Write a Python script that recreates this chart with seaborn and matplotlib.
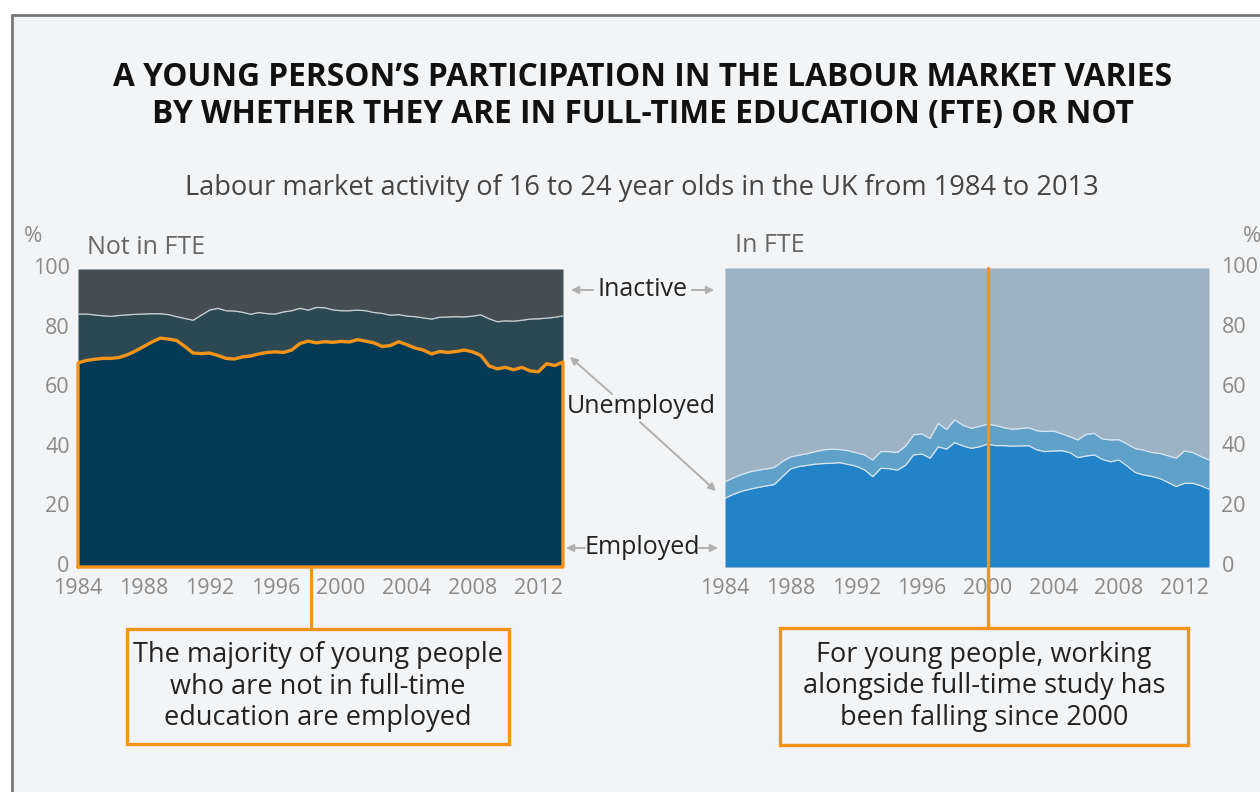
import numpy as np
import pandas as pd
import seaborn as sns
import matplotlib.pyplot as plt
import matplotlib.transforms as mtransforms
from matplotlib.patches import Rectangle, FancyArrowPatch

# data (half-year steps)
years = [1984.0 + 0.5 * i for i in range(60)]

# not in full-time education
not_fte_employed = [68.5, 69.3, 69.7, 70.0, 70.0, 70.3, 71.2, 72.5, 74.0, 75.5,
                    76.8, 76.5, 76.0, 74.0, 71.8, 71.6, 71.8, 71.0, 70.0, 69.8,
                    70.5, 70.8, 71.5, 72.0, 72.2, 72.0, 72.8, 75.0, 75.8, 75.2,
                    75.6, 75.4, 75.7, 75.5, 76.3, 75.8, 75.2, 74.0, 74.3, 75.6,
                    74.6, 73.5, 72.8, 71.5, 72.3, 72.0, 72.3, 72.8, 72.2, 71.0,
                    67.5, 66.5, 67.0, 66.2, 67.0, 65.8, 65.5, 68.2, 67.6, 68.8]
not_fte_active = [84.8, 84.9, 84.6, 84.3, 84.1, 84.4, 84.6, 84.8, 84.9, 85.0,
                  85.0, 84.7, 84.0, 83.4, 82.8, 84.5, 86.2, 86.8, 86.0, 85.9,
                  85.5, 84.8, 85.4, 85.0, 84.9, 85.6, 86.0, 86.8, 86.2, 87.1,
                  87.0, 86.3, 86.0, 86.0, 86.2, 86.0, 85.4, 85.1, 84.5, 84.7,
                  84.2, 84.0, 83.6, 83.2, 83.8, 83.9, 84.0, 83.9, 84.2, 84.6,
                  83.3, 82.3, 82.6, 82.5, 82.8, 83.2, 83.3, 83.5, 83.8, 84.3]

# in full-time education
fte_employed = [23.0, 24.3, 25.3, 26.0, 26.6, 27.1, 27.6, 30.2, 32.8, 33.6,
                34.0, 34.4, 34.6, 34.7, 34.9, 34.3, 33.7, 32.5, 30.2, 33.0,
                32.9, 32.4, 34.0, 37.5, 37.8, 36.4, 40.2, 39.4, 41.6, 40.5,
                39.7, 40.2, 41.1, 40.6, 40.6, 40.4, 40.5, 40.6, 39.2, 38.6,
                38.8, 38.9, 38.3, 36.6, 37.1, 37.5, 36.0, 35.2, 35.8, 33.8,
                31.6, 30.8, 30.3, 29.6, 28.3, 26.9, 28.0, 28.0, 27.2, 26.0]
fte_active = [28.5, 29.8, 30.9, 31.8, 32.4, 32.8, 33.3, 35.3, 36.8, 37.4,
              37.9, 38.6, 39.2, 39.4, 39.3, 38.9, 38.2, 37.5, 35.8, 38.6,
              38.6, 38.3, 40.4, 44.2, 44.5, 43.0, 48.0, 46.0, 49.2, 47.4,
              46.4, 47.0, 47.8, 47.3, 46.6, 46.1, 46.3, 46.6, 45.6, 45.3,
              45.5, 44.6, 43.6, 42.5, 44.3, 44.7, 42.8, 42.5, 42.6, 41.2,
              39.6, 39.1, 38.3, 38.0, 37.2, 36.4, 38.8, 38.3, 37.0, 35.8]

year_ticks = list(range(1984, 2013, 4))
pct_ticks = [0, 20, 40, 60, 80, 100]

df = pd.DataFrame({'year': years,
                   'nf_emp': not_fte_employed, 'nf_act': not_fte_active,
                   'f_emp': fte_employed, 'f_act': fte_active})

sns.set_theme(style='white')
plt.rcParams['font.family'] = ['Open Sans', 'DejaVu Sans']

W, H = 1260, 792
BG = '#f3f4f6'
ORANGE = '#f39419'
TICK = '#8a8a8a'

fig = plt.figure(figsize=(W / 100, H / 100), dpi=100, facecolor='white')


def fx(x):
    return x / W


def fy(y):
    return 1 - y / H


# фон и рамка
fig.add_artist(Rectangle((fx(12), -0.05), 1.1, fy(15) + 0.05, transform=fig.transFigure,
                         facecolor=BG, edgecolor='#777777', linewidth=2, zorder=0))

# сдвиг подписей оси Y немного вверх
lift = mtransforms.ScaledTranslation(0, 3 / 100, fig.dpi_scale_trans)


def make_ax(x0, x1, y0, y1):
    ax = fig.add_axes([fx(x0), fy(y1), fx(x1 - x0), (y1 - y0) / H])
    ax.set_facecolor(BG)
    for s in ax.spines.values():
        s.set_visible(False)
    ax.set_xlim(years[0], years[-1])
    ax.set_ylim(0, 100)
    ax.set_xticks(year_ticks)
    ax.set_yticks(pct_ticks)
    ax.tick_params(length=0, labelsize=15.5, labelcolor=TICK)
    ax.tick_params(axis='x', pad=8)
    ax.grid(False)
    return ax


# левый график: не в FTE
ax1 = make_ax(78, 563, 269, 567)
ax1.stackplot(df['year'], df['nf_emp'], df['nf_act'] - df['nf_emp'], 100 - df['nf_act'],
              colors=['#043a56', '#2c4853', '#434d52'], linewidth=0)
sns.lineplot(x='year', y='nf_act', data=df, ax=ax1, color='#c9d2d6', linewidth=0.9)
outline_x = [years[0]] + years + [years[-1], years[0]]
outline_y = [0] + not_fte_employed + [0, 0]
ax1.plot(outline_x, outline_y, color=ORANGE, linewidth=2.4, clip_on=False,
         solid_joinstyle='round')
ax1.tick_params(axis='y', pad=6)
ax1.axvline(1998.2, ymin=-0.208, ymax=0, color=ORANGE, linewidth=2.2, clip_on=False)
ax1.set_xlabel('')
ax1.set_ylabel('')

# правый график: в FTE
ax2 = make_ax(725, 1209, 268, 567)
ax2.stackplot(df['year'], df['f_emp'], df['f_act'] - df['f_emp'], 100 - df['f_act'],
              colors=['#2283c8', '#5fa1c8', '#9db3c3'], linewidth=0)
sns.lineplot(x='year', y='f_emp', data=df, ax=ax2, color='#d6e6f2', linewidth=0.9)
sns.lineplot(x='year', y='f_act', data=df, ax=ax2, color='#d6e6f2', linewidth=0.9)
ax2.yaxis.tick_right()
ax2.tick_params(axis='y', pad=9)
ax2.axvline(2000, ymin=-0.207, ymax=1, color=ORANGE, linewidth=2.4, clip_on=False)
ax2.set_xlabel('')
ax2.set_ylabel('')

for ax in (ax1, ax2):
    for lbl in ax.get_yticklabels():
        lbl.set_transform(lbl.get_transform() + lift)

# заголовки
fig.text(fx(643), fy(77), 'A YOUNG PERSON\u2019S PARTICIPATION IN THE LABOUR MARKET VARIES',
         ha='center', va='center', fontsize=22.8, fontweight='bold', color='#111111')
fig.text(fx(643), fy(114), 'BY WHETHER THEY ARE IN FULL-TIME EDUCATION (FTE) OR NOT',
         ha='center', va='center', fontsize=22.8, fontweight='bold', color='#111111')
fig.text(fx(642), fy(188), 'Labour market activity of 16 to 24 year olds in the UK from 1984 to 2013',
         ha='center', va='center', fontsize=19.6, color='#444444')

fig.text(fx(33), fy(236), '%', ha='center', va='center', fontsize=16, color=TICK)
fig.text(fx(1252), fy(236), '%', ha='center', va='center', fontsize=16, color=TICK)
fig.text(fx(87), fy(247), 'Not in FTE', ha='left', va='center', fontsize=18, color='#666666')
fig.text(fx(735), fy(245), 'In FTE', ha='left', va='center', fontsize=18, color='#666666')

# подписи в середине со стрелками
lab = dict(ha='center', va='center', fontsize=18, color='#222222')
arrow = dict(arrowstyle='-|>', color='#b0b0b0', lw=1.4, mutation_scale=11,
             shrinkA=0, shrinkB=0)


def fig_arrow(x0, y0, x1, y1):
    fig.add_artist(FancyArrowPatch((fx(x0), fy(y0)), (fx(x1), fy(y1)),
                                   transform=fig.transFigure, **arrow))


fig.text(fx(642), fy(290), 'Inactive', **lab)
fig_arrow(593, 290, 571, 290)
fig_arrow(692, 290, 714, 290)

fig.text(fx(641), fy(407), 'Unemployed', **lab)
fig_arrow(612, 394, 570, 357)
fig_arrow(640, 422, 716, 491)

fig.text(fx(642), fy(548), 'Employed', **lab)
fig_arrow(585, 548, 566, 548)
fig_arrow(699, 548, 718, 548)


# поясняющие рамки
def note(x0, x1, y0, y1, txt):
    fig.add_artist(Rectangle((fx(x0), fy(y1)), fx(x1 - x0), (y1 - y0) / H,
                             transform=fig.transFigure, facecolor=BG,
                             edgecolor=ORANGE, linewidth=2.4))
    fig.text(fx((x0 + x1) / 2), fy((y0 + y1) / 2), txt, ha='center', va='center',
             fontsize=19.5, color='#222222', linespacing=1.18)


note(127, 509, 629, 744,
     'The majority of young people\nwho are not in full-time\neducation are employed')
note(780, 1188, 628, 745,
     'For young people, working\nalongside full-time study has\nbeen falling since 2000')

plt.savefig('out.png', dpi=100, facecolor=fig.get_facecolor())
